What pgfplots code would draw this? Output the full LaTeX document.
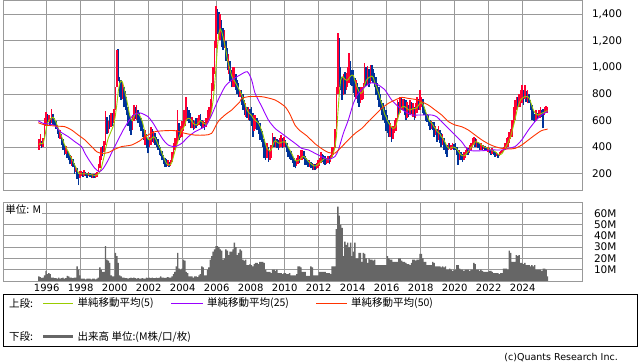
\documentclass[border=0pt]{standalone}
\usepackage{fontspec}
\setmainfont{DejaVu Sans}
\newfontfamily\cjk{Noto Sans CJK JP}
\usepackage{pgfplots}
\usepackage{pgfplotstable}
\pgfplotsset{compat=1.18}
\definecolor{cRed}{HTML}{FF0033}
\definecolor{cBlue}{HTML}{003399}
\definecolor{cGreen}{HTML}{99CC00}
\definecolor{cPurple}{HTML}{9900FF}
\definecolor{cOrange}{HTML}{FF3300}
\definecolor{cGrid}{HTML}{999999}
\definecolor{cVol}{HTML}{666666}

% monthly candles from Jul 1995: low high up(1)/down(0) ma5 volume(M)
\pgfplotstableread{
lo hi c m v
380 460 1 420 4
410 500 1 430 3.5
395 450 0 425 2.5
400 470 1 430 3
460 620 1 470 5
560 667 1 530 9
560 650 0 580 6
590 640 1 600 7
560 620 0 610 6
580 685 1 620 3
570 650 0 625 3
560 620 0 610 2.5
540 600 0 590 2.5
500 570 0 560 2
470 540 0 535 3
460 530 1 510 2
420 500 0 480 2.5
380 460 0 450 3
340 420 0 420 2
350 410 1 400 2.5
320 380 0 380 4.5
300 366 0 360 4
270 340 0 335 3
260 330 1 315 3
250 310 0 295 2.5
200 280 0 270 3
210 260 1 250 3
160 240 0 225 13
115 200 0 205 10
170 220 1 200 5
180 220 1 200 2
175 215 0 198 2
185 225 1 200 2
180 215 0 200 1.5
170 205 0 198 2
180 215 1 197 2
175 205 0 195 2
165 200 0 192 1.5
170 200 1 190 2
165 195 0 188 2
170 205 1 188 1.5
175 215 1 192 2
210 270 1 200 3
240 330 1 215 12
300 400 1 240 10
330 410 0 285 8
360 450 1 330 8
420 672 1 385 31
500 630 0 430 19
504 600 1 470 18
540 640 0 495 16
555 655 1 520 5
560 660 0 545 4
580 690 1 575 4
680 855 1 640 25
850 1130 1 720 22
900 1136 0 820 16
780 930 0 880 5
755 905 0 900 4
760 880 1 890 3
700 850 0 850 3
680 820 0 800 2.5
640 780 0 755 2.5
560 700 0 700 2
520 640 0 645 2.5
491 610 0 610 3
530 640 1 600 2.5
600 717 1 630 3
610 700 0 650 2.5
604 717 1 655 2
580 680 0 650 2.5
554 660 0 642 2
520 620 0 620 2
480 580 0 592 2.5
454 540 0 550 2
420 530 1 504 2
390 500 0 480 3
354 460 0 460 2.5
400 480 1 454 3
420 554 1 460 2.5
440 540 0 470 3
430 520 1 479 2.5
420 504 0 470 2.5
404 480 0 450 3
380 460 0 420 2.5
340 420 0 404 3
330 400 0 380 4
300 370 0 350 3
270 340 0 328 3
253 320 0 300 2.5
253 310 0 278 3
255 300 1 268 3.5
253 290 0 266 3
260 303 1 270 3
290 360 1 290 4
330 430 1 330 6
380 470 1 370 8
404 529 1 404 13
440 680 1 440 25
454 579 0 479 11
470 560 1 510 10
480 600 1 535 11
520 680 1 541 19
560 680 1 570 18
600 780 1 604 8
600 705 0 615 7
579 680 0 617 4
541 655 0 610 4
541 630 1 595 4
529 604 0 579 3
540 600 1 570 4
541 617 0 567 4
560 620 1 575 3.5
570 640 1 590 5
560 650 0 600 6
541 604 0 590 13
541 600 1 580 12
530 590 0 579 5
554 620 1 567 5
580 680 1 580 10
604 705 1 600 12
640 760 1 629 19
680 880 1 680 22
820 1000 1 755 26
950 1200 1 860 28
1150 1462 1 1000 31
1250 1440 0 1150 31
1230 1420 0 1257 30
1207 1400 1 1290 28
1156 1357 0 1270 27
1131 1300 0 1230 19
1150 1282 1 1180 20
1050 1200 0 1130 28
980 1150 0 1060 27
950 1100 1 1020 23
900 1050 0 980 26
850 980 0 940 26
855 1006 1 910 28
855 1006 1 900 34
830 950 0 880 30
800 905 0 860 23
780 880 0 840 25
780 830 1 820 28
720 830 0 800 27
680 800 0 770 19
640 755 0 740 18
630 730 1 705 19
620 705 0 680 14
604 705 1 660 14
600 690 0 650 15
560 705 0 640 14
479 655 0 620 13
520 640 1 610 15
540 642 1 600 16
530 620 0 590 16
500 600 0 580 15
454 579 0 560 17
440 540 0 530 17
400 520 0 500 17
316 460 0 460 16
303 420 0 420 10
320 430 1 390 8
290 404 0 380 8
300 380 1 370 8
320 420 1 380 7
391 504 1 410 10
404 480 0 440 10
404 479 1 450 9
390 460 0 440 10
379 454 0 430 7
390 470 1 430 7
400 491 1 435 7
391 470 0 440 6
400 480 1 440 7
400 454 0 440 7
360 430 0 420 6
328 400 0 400 6
310 379 0 380 7
303 370 0 360 5
280 330 0 340 5
250 320 0 315 5
240 300 0 300 5
260 320 1 295 6
270 340 1 300 13
280 330 0 305 13
303 379 1 315 12
303 379 1 328 8
310 370 0 330 8
266 330 0 320 8
266 320 0 310 4.5
253 303 0 295 4.5
253 300 1 285 4.5
240 290 0 275 13
228 278 0 266 12
230 275 1 260 5
228 270 0 258 5
235 280 1 262 5
240 303 1 270 5
260 320 1 278 8
278 366 1 290 8
290 350 0 300 8
270 341 0 310 8
266 330 0 316 8
270 320 1 310 7
280 330 1 305 7
270 330 0 305 7
290 340 1 310 6
328 404 1 330 13
340 404 1 360 13
390 540 1 400 13
540 850 1 480 46
800 1257 1 650 66
850 1219 0 800 58
830 1000 0 905 50
755 930 0 930 47
792 950 1 925 22
800 968 0 910 35
830 960 1 905 32
855 1000 1 905 34
880 1106 1 920 30
870 1050 0 935 34
860 981 0 943 22
805 981 0 940 26
780 920 0 900 34
760 905 1 870 20
730 880 0 840 20
705 855 0 817 25
730 850 1 805 25
755 855 1 810 17
760 880 1 830 25
855 1031 1 870 24
860 1000 0 900 20
870 1010 1 915 16
855 990 0 925 20
880 1018 1 930 19
900 1018 0 935 19
880 990 0 925 18
850 960 0 890 19
790 930 0 860 14
755 880 0 830 14
705 855 0 800 14
680 800 0 760 14
640 755 0 730 14
604 730 0 690 14
580 700 0 650 14
520 680 0 629 14
504 640 0 600 22
479 604 0 580 20
480 580 1 567 19
441 554 0 550 19
460 560 1 541 17
504 604 1 545 17
520 620 1 560 17
600 755 1 600 17
630 740 0 642 20
660 780 1 670 20
680 770 0 700 18
680 760 1 705 17
640 760 0 705 17
604 755 0 700 16
620 740 1 690 15
630 720 0 680 15
642 755 1 680 14
650 740 0 685 16
630 730 1 690 19
604 700 0 690 19
620 730 1 692 18
655 780 1 700 19
680 760 0 715 19
680 830 1 730 24
700 780 1 735 24
655 760 0 725 20
640 705 0 700 17
600 680 0 667 17
592 650 0 640 14
560 640 0 610 14
529 604 0 592 14
540 600 1 585 14
529 590 0 570 17
479 592 0 550 16
490 560 1 541 13
440 540 0 520 13
454 560 1 510 13
430 529 0 500 13
404 504 0 480 12
420 500 1 470 13
380 470 0 450 12
350 430 0 430 13
328 420 0 405 10
379 429 1 395 10
385 429 0 390 11
379 420 1 395 10
385 429 1 400 9
380 425 0 400 10
379 429 0 395 10
340 404 0 385 14
266 380 0 370 14
303 379 1 355 11
303 366 0 341 10
290 350 0 335 10
300 360 1 335 9
320 380 1 340 10
340 400 1 355 10
340 391 0 366 10
354 420 1 380 9
380 429 1 400 10
404 466 1 410 10
420 479 1 425 16
404 470 0 441 15
404 460 1 440 10
391 441 0 435 10
379 429 0 430 9
380 429 1 420 10
379 420 0 410 9
385 420 1 404 8
379 410 0 400 8
370 404 0 396 8
366 404 1 391 8
354 391 0 385 9
341 379 0 380 9
350 390 1 375 8
341 375 0 370 7
328 366 0 366 7
330 360 1 358 7
320 350 0 348 7
330 360 1 341 6
341 370 1 345 7
353 380 1 353 7
370 404 1 370 11
379 429 1 391 11
391 466 1 410 11
404 480 1 429 10
429 516 1 454 27
460 540 1 479 25
479 604 1 520 17
560 700 1 560 17
604 755 1 604 17
680 780 1 654 23
690 780 0 700 22
700 800 1 730 23
705 830 1 755 16
730 868 1 767 16
720 830 0 775 15
760 868 1 780 16
740 820 0 780 14
730 830 1 780 14
730 800 0 770 14
680 755 0 745 13
604 720 0 710 14
600 680 0 680 13
590 650 0 660 14
600 680 1 650 10
610 660 0 642 10
620 680 1 645 10
620 700 1 650 10
630 680 0 655 9
541 690 0 660 11
640 705 1 665 11
655 710 1 670 10
660 705 1 675 4
}\data

\begin{document}
\begin{tikzpicture}[x=1pt,y=1pt]
\pgfplotsset{panel/.style={
  scale only axis, width=579pt,
  xmin=-30.64, xmax=378.07,
  xtick={0,24,48,72,96,120,144,168,192,216,240,264,288,312,336},
  grid=major,
  major grid style={draw=cGrid, line width=0.9pt},
  axis line style={draw=cGrid, line width=0.9pt},
  major tick length=0pt,
  yticklabel pos=right,
  clip=true,
}}
% ---------- price panel ----------
\begin{axis}[panel, at={(3.3pt,172pt)}, anchor=south west, height=189.5pt,
  ymin=77.5, ymax=1504,
  ytick={200,400,600,800,1000,1200,1400},
  yticklabels={200,400,600,800,{1,000},{1,200},{1,400}},
  xticklabels={},
  yticklabel style={anchor=west, inner sep=0pt, xshift=9.5pt, font=\fontsize{10.5}{12}\selectfont},
]
\addplot[draw=none, mark=none, forget plot,
  restrict expr to domain={\thisrow{c}}{0:0},
  error bars/.cd, y dir=plus, y explicit, error mark=none,
  error bar style={draw=cBlue, line width=1.5pt}]
  table[x expr=\coordindex-5.5, y=lo, y error expr=\thisrow{hi}-\thisrow{lo}] {\data};
\addplot[draw=none, mark=none, forget plot,
  restrict expr to domain={\thisrow{c}}{1:1},
  error bars/.cd, y dir=plus, y explicit, error mark=none,
  error bar style={draw=cRed, line width=1.5pt}]
  table[x expr=\coordindex-5.5, y=lo, y error expr=\thisrow{hi}-\thisrow{lo}] {\data};
\addplot[cGreen, line width=0.9pt, mark=none] table[x expr=\coordindex-5.5, y=m] {\data};
\addplot[cPurple, line width=0.9pt, mark=none, smooth, tension=0.4] coordinates {
(-6,599) (-2.4,579) (2.4,574) (6,560) (9.6,516) (15.2,479) (19.9,441) (24.6,404) (27,353) (30.6,291) (34,241) (37.2,215) (40,241) (43.4,303) (46.8,379) (50.4,454) (54,529) (57.6,592) (61.2,642) (65.4,659) (67.2,654) (71.6,629) (75.2,579) (78.7,516) (82.3,454) (85.8,416) (90.5,404) (95.3,429) (100,479) (104.6,516) (109.3,541) (112.8,567) (116.4,642) (121,755) (125.8,855) (130.6,905) (136.4,943) (141.6,968) (144.7,905) (147.1,805) (151.8,705) (156.5,604) (161.2,541) (165.8,504) (170.6,466) (175.3,429) (180,391) (184.8,379) (189.5,353) (194.2,328) (198.8,308) (203.5,330) (205.9,379) (209.4,504) (212.9,604) (216.5,730) (220,805) (224.6,855) (229.4,885) (234.1,868) (238.8,830) (243.5,755) (248.2,705) (253,667) (257.6,642) (262.3,642) (267,642) (271.8,642) (275.3,629) (278.8,592) (283.6,541) (288.2,491) (292.9,441) (296.4,391) (300,373) (307.2,373) (314.4,379) (321.6,379) (325.9,391) (330.6,404) (335.3,454) (340,529) (344.6,592) (349.2,642) (353.6,667)
};
\addplot[cOrange, line width=0.9pt, mark=none, smooth, tension=0.4] coordinates {
(-6,584) (-1.2,567) (6,559) (12.8,554) (17.6,529) (22.3,491) (27,454) (31.7,404) (35.3,366) (38.8,353) (43.4,359) (48,384) (52.8,404) (59.9,416) (65.9,449) (69.4,479) (76.4,516) (83.4,524) (90.5,524) (97.6,504) (104.6,491) (111.6,491) (116.4,504) (121,592) (125.8,642) (130.6,680) (133,705) (136.4,742) (137.6,767) (142.3,780) (151.8,780) (161.2,755) (168.2,705) (171.6,650) (175.3,565) (178.8,524) (183.6,485) (189.5,425) (194.2,388) (198.8,360) (203.5,355) (207,390) (212.9,454) (217.7,504) (222.4,541) (227,592) (231.7,642) (236.4,692) (241.2,730) (245.9,755) (250.6,775) (255.2,767) (259.9,760) (264.7,742) (269.4,717) (274.1,680) (278.8,642) (283.6,592) (288.2,567) (292.9,554) (297.6,529) (302.4,491) (307.2,454) (312,424) (316.4,404) (321.1,391) (325.9,386) (330.6,391) (335.3,416) (340,454) (344.6,491) (349.2,524) (353.6,536)
};
\end{axis}
% ---------- volume panel ----------
\begin{axis}[panel, at={(3.3pt,81pt)}, anchor=south west, height=79pt,
  ymin=0, ymax=70,
  ytick={10,20,30,40,50,60},
  yticklabels={10M,20M,30M,40M,50M,60M},
  xticklabels={1996,1998,2000,2002,2004,2006,2008,2010,2012,2014,2016,2018,2020,2022,2024},
  xticklabel style={anchor=north, inner sep=0pt, yshift=-3pt, font=\fontsize{10}{12}\selectfont},
  yticklabel style={anchor=west, inner sep=0pt, xshift=11.5pt, font=\fontsize{10.5}{12}\selectfont},
]
\addplot[ybar, bar width=1, bar shift=0pt, fill=cVol, draw=none] table[x expr=\coordindex-5.5, y=v] {\data};
\node[anchor=north west, fill=white, inner sep=1pt, font=\cjk\fontsize{10.5}{12}\selectfont] at ([xshift=1pt,yshift=-1pt]rel axis cs:0,1) {単位: M};
\end{axis}
% ---------- legend ----------
\draw[black, line width=0.8pt] (3.3,15.3) rectangle (637.5,67.7);
\begin{scope}[every node/.style={anchor=west, inner sep=0pt, font=\cjk\fontsize{10.5}{12}\selectfont}]
\node at (9,58.7) {上段:};
\draw[draw=cGreen, line width=1.2pt] (43,58.7) -- (73,58.7);
\node at (77.5,58.7) {単純移動平均(5)};
\draw[draw=cPurple, line width=1.2pt] (171,58.7) -- (203,58.7);
\node at (207,58.7) {単純移動平均(25)};
\draw[draw=cOrange, line width=1.2pt] (316,58.7) -- (347,58.7);
\node at (351,58.7) {単純移動平均(50)};
\node at (9,25.3) {下段:};
\draw[draw=cVol, line width=3pt] (43,25.3) -- (73,25.3);
\node at (77.5,25.3) {出来高 単位:(M株/口/枚)};
\end{scope}
\node[anchor=east, inner sep=0pt, font=\fontsize{9.5}{11}\selectfont] at (618,4.2) {(c)Quants Research Inc.};
\pgfresetboundingbox
\path[use as bounding box] (0,0) rectangle (638,362);
\end{tikzpicture}
\end{document}
